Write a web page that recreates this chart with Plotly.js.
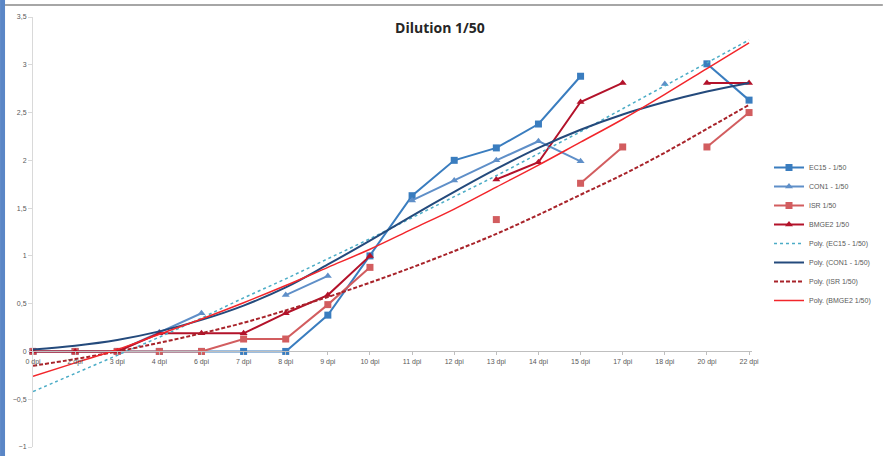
<!DOCTYPE html>
<html>
<head>
<meta charset="utf-8">
<script src="https://cdn.plot.ly/plotly-3.0.1.min.js"></script>
<style>html,body{margin:0;padding:0;background:#fff;}#chart{width:884px;height:456px;}</style>
</head>
<body>
<div id="chart"></div>
<script>
const categories = ["0 dpi","2 dpi","3 dpi","4 dpi","6 dpi","7 dpi","8 dpi","9 dpi","10 dpi","11 dpi","12 dpi","13 dpi","14 dpi","15 dpi","17 dpi","18 dpi","20 dpi","22 dpi"];
const ecs   = [0,0,0,0,0,0,0,0.38,1.0,1.63,2.0,2.13,2.38,2.88,null,null,3.01,2.63];
const con1  = [0,0,0,0.2,0.4,null,0.59,0.79,null,1.58,1.79,2.0,2.2,1.99,null,2.8,null,null];
const isr   = [0,0,0,0,0,0.13,0.13,0.49,0.88,null,null,1.38,null,1.76,2.14,null,2.14,2.5];
const bmge2 = [0,0,0,0.19,0.19,0.19,0.4,0.59,1.0,null,null,1.8,1.98,2.61,2.81,null,2.81,2.81];
const polyEcs   = [-0.42,-0.23,-0.04,0.15,0.35,0.56,0.76,0.97,1.18,1.40,1.62,1.84,2.07,2.30,2.54,2.78,3.02,3.26];
const polyCon1  = [0.02,0.06,0.12,0.21,0.33,0.48,0.67,0.91,1.16,1.42,1.67,1.91,2.13,2.32,2.48,2.61,2.72,2.81];
const polyIsr   = [-0.15,-0.08,0.00,0.09,0.19,0.30,0.43,0.57,0.72,0.88,1.05,1.23,1.43,1.64,1.85,2.08,2.33,2.58];
const polyBmge2 = [-0.26,-0.12,0.02,0.18,0.34,0.51,0.69,0.88,1.07,1.28,1.49,1.72,1.95,2.19,2.43,2.69,2.96,3.23];
const names = ["EC15 - 1/50","CON1 - 1/50","ISR 1/50","BMGE2 1/50","Poly. (EC15 - 1/50)","Poly. (CON1 - 1/50)","Poly. (ISR 1/50)","Poly. (BMGE2 1/50)"];

function dataTrace(y, name, color, symbol) {
  return {x: categories, y: y, name: name, type: 'scatter', mode: 'lines+markers',
    connectgaps: false, cliponaxis: false,
    line: {color: color, width: 2}, marker: {color: color, symbol: symbol, size: 7}};
}
function polyTrace(y, name, color, dash, width) {
  return {x: categories, y: y, name: name, type: 'scatter', mode: 'lines',
    line: {color: color, width: width, dash: dash, shape: 'spline'}, cliponaxis: false};
}
const traces = [
  dataTrace(ecs, names[0], '#3a7dbf', 'square'),
  dataTrace(con1, names[1], '#5f8fc8', 'triangle-up'),
  dataTrace(isr, names[2], '#d25d5f', 'square'),
  dataTrace(bmge2, names[3], '#b3122a', 'triangle-up'),
  polyTrace(polyEcs, names[4], '#4bacc6', 'dot', 1.5),
  polyTrace(polyCon1, names[5], '#244a7c', 'solid', 2),
  polyTrace(polyIsr, names[6], '#a8232a', '4px,2px', 2),
  polyTrace(polyBmge2, names[7], '#f2262b', 'solid', 1.5)
];
const W = 720;
const layout = {
  width: 884, height: 456,
  margin: {l: 33, r: 131, t: 17, b: 9},
  paper_bgcolor: '#ffffff', plot_bgcolor: '#ffffff',
  separators: ', ',
  showlegend: true,
  font: {family: 'Liberation Sans, Arial, sans-serif', color: '#595959', size: 7},
  title: {text: '<b>Dilution 1/50</b>', font: {family: 'Open Sans, sans-serif', size: 14, color: '#262626'},
    x: 440/884, xref: 'container', xanchor: 'center', y: 1 - 28/456, yref: 'container', yanchor: 'middle'},
  xaxis: {type: 'category', categoryorder: 'array', categoryarray: categories,
    range: [0, 17.07], anchor: 'free', position: 1/4.5,
    showline: true, linecolor: '#bfbfbf', linewidth: 1, showgrid: false, zeroline: false,
    ticks: 'outside', ticklen: 3, tickcolor: '#bfbfbf',
    tickfont: {size: 7, color: '#595959'}, tickangle: 0},
  yaxis: {range: [-1, 3.5], dtick: 0.5, tick0: 0, showline: true, linecolor: '#d9d9d9',
    showgrid: false, zeroline: false, ticks: 'outside', ticklen: 4, tickcolor: '#d9d9d9',
    tickfont: {size: 7, color: '#595959'}},
  legend: {x: (769-33)/W, xanchor: 'left', y: (447-153)/430, yanchor: 'top',
    font: {size: 7, color: '#595959'}, bgcolor: 'rgba(0,0,0,0)', itemwidth: 30, tracegroupgap: 0},
  shapes: [
    {type: 'rect', xref: 'paper', yref: 'paper', x0: -33/W, x1: -28/W, y0: -9/430, y1: (17)/430 + 1,
      fillcolor: '#5a86c6', line: {width: 0}, layer: 'above'},
    {type: 'line', xref: 'paper', yref: 'paper', x0: -28/W, x1: 1 + 131/W, y0: 1 + 12/430, y1: 1 + 12/430,
      line: {color: '#a6a6a6', width: 2}}
  ]
};
Plotly.newPlot('chart', traces, layout, {staticPlot: true, displayModeBar: false});
</script>
</body>
</html>
